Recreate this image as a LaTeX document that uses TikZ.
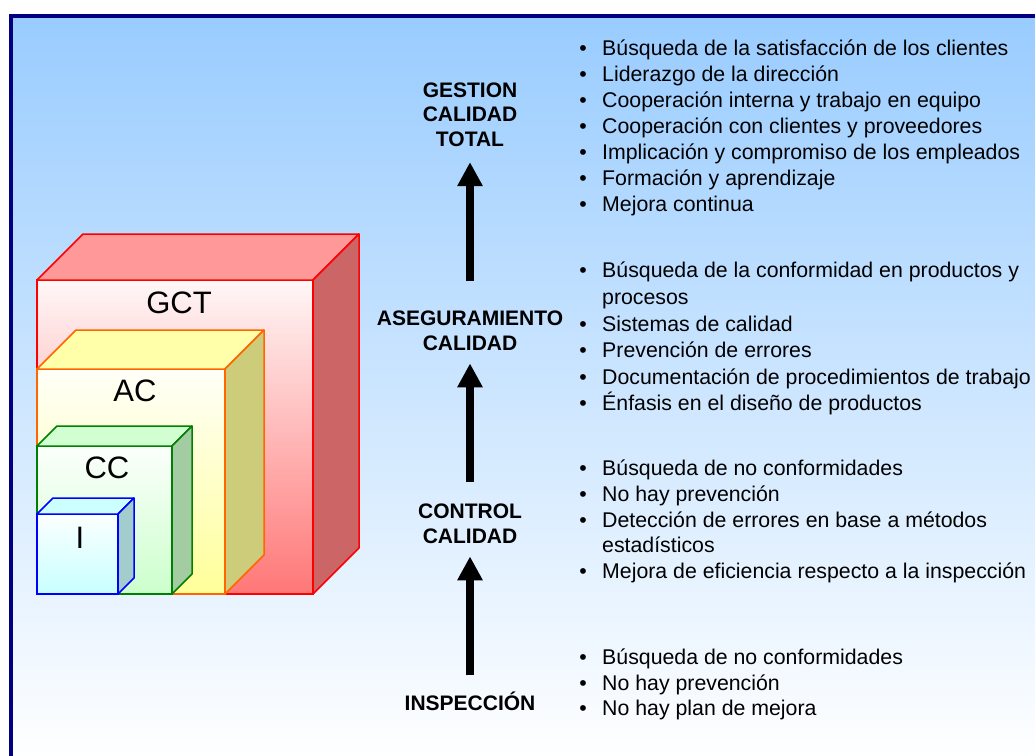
\documentclass[tikz,border=0pt]{standalone}
\usepackage{fontspec}
\setmainfont{Liberation Sans}
\usetikzlibrary{arrows.meta}

\definecolor{frameblue}{HTML}{000080}
\definecolor{skytop}{HTML}{99CCFF}
\definecolor{gctedge}{HTML}{FF0000}
\definecolor{gcttop}{HTML}{FF9999}
\definecolor{gctside}{HTML}{CC6666}
\definecolor{gctlow}{HTML}{FF7777}
\definecolor{acedge}{HTML}{FF6600}
\definecolor{actop}{HTML}{FFFFAA}
\definecolor{acside}{HTML}{CCCC7A}
\definecolor{aclow}{HTML}{FFFF99}
\definecolor{ccedge}{HTML}{008000}
\definecolor{cctop}{HTML}{D2FFD2}
\definecolor{ccside}{HTML}{A3CCA3}
\definecolor{cclow}{HTML}{CCFFCC}
\definecolor{iedge}{HTML}{0000FF}
\definecolor{itop}{HTML}{CCFFFF}
\definecolor{iside}{HTML}{A3CCCC}
\definecolor{ilow}{HTML}{C8FFFF}

\begin{document}
\begin{tikzpicture}[x=1pt,y=-1pt]
  \tikzstyle{stage} = [font=\fontsize{21}{24.5}\selectfont\bfseries, align=center, inner sep=0pt]
  \tikzstyle{item} = [font=\fontsize{21.3}{24}\selectfont, anchor=base west, inner sep=0pt]
  \tikzstyle{dot} = [font=\fontsize{21.3}{24}\selectfont, anchor=base, inner sep=0pt]
  \tikzstyle{level} = [font=\fontsize{31}{36}\selectfont, inner sep=0pt]
  \tikzstyle{up} = [line width=8pt, -{Triangle[width=24pt,length=24pt]}]

  \useasboundingbox (0,0) rectangle (1035,755);
  \clip (0,0) rectangle (1035,755);

  % background panel
  \shade[top color=skytop, bottom color=white] (11,16) rectangle (1040,760);
  \draw[frameblue, line width=3.5pt] (11,16) rectangle (1040,760);

  % nested cubes, largest first
  \foreach \name/\lbl/\r/\t/\d/\edge/\topc/\sidec/\lowc/\lx/\ly in {
      gctbox/GCT/313/280/46/gctedge/gcttop/gctside/gctlow/179/303,
      acbox/AC/225/369/39/acedge/actop/acside/aclow/135/391,
      ccbox/CC/172/446/20/ccedge/cctop/ccside/cclow/107/468,
      ibox/I/118/514/16/iedge/itop/iside/ilow/80/538} {
    \shadedraw[top color=\lowc!6!white, bottom color=\lowc, draw=\edge, line width=1.5pt]
      (37,\t) rectangle (\r,594);
    \filldraw[fill=\topc, draw=\edge, line width=1.5pt, line join=round]
      (37,\t) -- ++(\d,-\d) -- ++(\r-37,0) -- (\r,\t) -- cycle;
    \filldraw[fill=\sidec, draw=\edge, line width=1.5pt, line join=round]
      (\r,\t) -- ++(\d,-\d) -- (\r+\d,594-\d) -- (\r,594) -- cycle;
    \node[level] (\name) at (\lx,\ly) {\lbl};
  }

  % stages
  \node[stage] (gestion) at (470,114.5) {GESTION\\CALIDAD\\TOTAL};
  \node[stage] (asegur) at (470,331) {ASEGURAMIENTO\\CALIDAD};
  \node[stage] (control) at (470,524) {CONTROL\\CALIDAD};
  \node[stage] (inspec) at (470,701) {INSPECCIÓN};

  \draw[up, shorten <=30pt, shorten >=15.5pt] (asegur) -- (gestion);
  \draw[up, shorten <=22pt, shorten >=12.5pt] (control) -- (asegur);
  \draw[up, shorten <=16pt, shorten >=12.5pt] (inspec) -- (control);

  % bullet lists
  \foreach \y/\t in {55/{Búsqueda de la satisfacción de los clientes},
                     81/{Liderazgo de la dirección},
                     107/{Cooperación interna y trabajo en equipo},
                     133/{Cooperación con clientes y proveedores},
                     159/{Implicación y compromiso de los empleados},
                     185/{Formación y aprendizaje},
                     211/{Mejora continua},
                     277/{Búsqueda de la conformidad en productos y},
                     304/{procesos},
                     331/{Sistemas de calidad},
                     357/{Prevención de errores},
                     384/{Documentación de procedimientos de trabajo},
                     410/{Énfasis en el diseño de productos},
                     475/{Búsqueda de no conformidades},
                     501/{No hay prevención},
                     527/{Detección de errores en base a métodos},
                     552/{estadísticos},
                     578/{Mejora de eficiencia respecto a la inspección},
                     664/{Búsqueda de no conformidades},
                     690/{No hay prevención},
                     715/{No hay plan de mejora}} {
    \node[item] (line\y) at (602,\y) {\t};
  }
  \foreach \y in {55,81,107,133,159,185,211,277,331,357,384,410,475,501,527,578,664,690,715} {
    \node[dot] (dot\y) at (583,\y) {\textbullet};
  }
\end{tikzpicture}
\end{document}
